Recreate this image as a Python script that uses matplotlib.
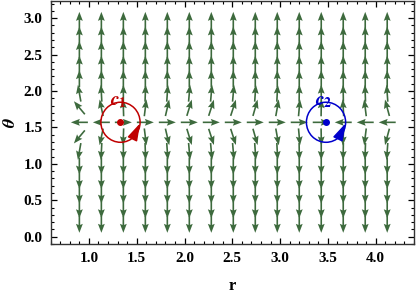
import numpy as np
import matplotlib
matplotlib.use("Agg")
import matplotlib.pyplot as plt
from matplotlib.patches import Ellipse
from matplotlib.ticker import MultipleLocator

plt.rcParams.update({
    "font.family": "Liberation Serif",
    "font.weight": "bold",
    "mathtext.fontset": "stix",
    "xtick.direction": "in",
    "ytick.direction": "in",
    "xtick.top": True,
    "ytick.right": True,
})

# grid of the vector field (arrow centres)
r_cols = [0.90, 1.13, 1.36, 1.59, 1.82, 2.05, 2.28, 2.51, 2.74, 2.97,
          3.20, 3.43, 3.66, 3.89, 4.12]
theta_rows = [0.17, 0.37, 0.57, 0.77, 0.97, 1.17, 1.37, 1.57, 1.77, 1.97,
              2.17, 2.37, 2.57, 2.77, 2.97]

# direction on the equator row: -1 left, +1 right
eq_dir = [-1, -1, 1, 1, 1, 1, 1, 1, 1, 1, 1, 1, -1, -1, -1]
# tilt from vertical (deg, + = towards larger r) one row off the equator
tilt_near = [-40, -12, -2, 7, 13, 17, 18, 18, 16, 10, 5, 1, -3, -7, -15]
# two rows off the equator
tilt_far = [-10, -3, 0, 2, 4, 5, 5, 5, 4, 3, 1, 0, -1, -2, -4]

# the two defects and their contours
c_r = [1.33, 3.48]
c_theta = [1.571, 1.571]
c_names = ["$c_1$", "$c_2$"]
c_colors = ["#c00000", "#0000cc"]
loop_a, loop_b = 0.205, 0.275

GREEN = "#3d6a3d"

fig = plt.figure(figsize=(4.19, 2.95), dpi=100)
ax = fig.add_axes([0.121, 0.173, 0.867, 0.825])

R, T = np.meshgrid(r_cols, theta_rows)
U = np.zeros_like(R)
V = np.zeros_like(R)
for i, th in enumerate(theta_rows):
    k = int(round((th - 1.57) / 0.2))
    for j in range(len(r_cols)):
        if k == 0:
            U[i, j], V[i, j] = eq_dir[j], 0.0
            continue
        t = tilt_near[j] if abs(k) == 1 else (tilt_far[j] if abs(k) == 2 else 0)
        s = 1 if k > 0 else -1
        U[i, j] = np.sin(np.radians(t))
        V[i, j] = s * np.cos(np.radians(t))

ax.quiver(R, T, U, V, color=GREEN, pivot="middle", angles="uv",
          scale_units="inches", scale=1 / 0.17, width=0.0045,
          headwidth=4.2, headlength=5.5, headaxislength=4.8, zorder=2)

for r0, t0, name, col in zip(c_r, c_theta, c_names, c_colors):
    ax.add_patch(Ellipse((r0, t0), 2 * loop_a, 2 * loop_b, fill=False,
                         edgecolor=col, lw=1.1, zorder=3))
    ax.plot(r0, t0, "o", color=col, ms=4, zorder=4)
    # small direction mark on the contour (counter-clockwise)
    p0 = np.radians(-50)
    p1 = np.radians(-3)
    ax.annotate("", xy=(r0 + loop_a * np.cos(p1), t0 + loop_b * np.sin(p1)),
                xytext=(r0 + loop_a * np.cos(p0), t0 + loop_b * np.sin(p0)),
                arrowprops=dict(arrowstyle="-|>,head_length=1.05,head_width=0.32",
                                color=col, lw=1.1, shrinkA=0, shrinkB=0),
                zorder=4)
    ax.text(r0 - 0.02, t0 + loop_b + 0.01, name, color=col, fontsize=14,
            ha="center", va="center", zorder=5)

ax.set_xlim(0.6, 4.4)
ax.set_ylim(-0.1, np.pi + 0.1)
ax.xaxis.set_major_locator(MultipleLocator(0.5))
ax.xaxis.set_minor_locator(MultipleLocator(0.1))
ax.yaxis.set_major_locator(MultipleLocator(0.5))
ax.yaxis.set_minor_locator(MultipleLocator(0.1))
ax.tick_params(which="major", length=4, width=0.9, labelsize=11, pad=6)
ax.tick_params(which="minor", length=2, width=0.8)
for sp in ax.spines.values():
    sp.set_linewidth(1.0)
    sp.set_color("#333333")

ax.set_xlabel("r", fontsize=12, fontweight="bold", labelpad=9)
ax.set_ylabel(r"$\boldsymbol{\theta}$", fontsize=13, labelpad=3)

fig.savefig("out.png", dpi=100)
